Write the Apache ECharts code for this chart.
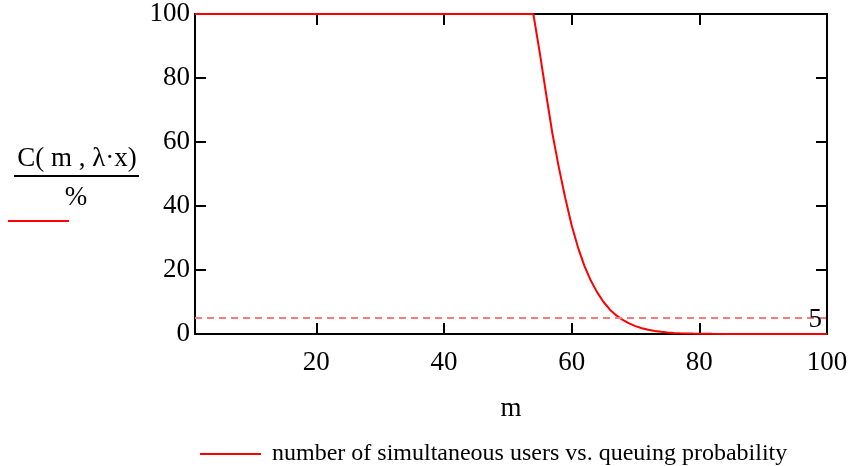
<!DOCTYPE html>
<html>
<head>
<meta charset="utf-8">
<script src="https://cdn.jsdelivr.net/npm/echarts@6/dist/echarts.min.js"></script>
<style>
html,body{margin:0;padding:0;background:#fff;}
#chart{width:856px;height:466px;}
</style>
</head>
<body>
<div id="chart"></div>
<script>
// Number of servers m
var mValues = [1, 54, 55, 56, 57, 58, 59, 60, 61, 62, 63, 64, 65, 66, 67, 68, 69, 70, 71, 72, 73, 74, 75, 76, 77, 78, 79, 80, 82, 85, 90, 100];
// Queuing probability C(m, λ·x) in %
var cValues = [100, 100, 88, 75, 62.5, 52, 42.5, 34, 27, 21.3, 16.7, 13, 10, 7.6, 5.8, 4.4, 3.3, 2.45, 1.8, 1.3, 0.95, 0.68, 0.48, 0.34, 0.24, 0.17, 0.12, 0.08, 0.04, 0.01, 0, 0];
var thresholdValue = 5;
var xTickValues = [20, 40, 60, 80];
var xLabelValues = [20, 40, 60, 80, 100];
var seriesName = 'number of simultaneous users vs. queuing probability';

var FONT = 'Liberation Serif';
var chart = echarts.init(document.getElementById('chart'));

var points = mValues.map(function (m, i) { return [m, cValues[i]]; });

function xAxisCfg(pos, showLabels) {
  return {
    type: 'value', position: pos, min: 1, max: 100,
    axisLine: { show: true, onZero: false, lineStyle: { color: '#000', width: 2 } },
    axisTick: { show: true, inside: true, length: 11, customValues: xTickValues, lineStyle: { color: '#000', width: 2 } },
    axisLabel: showLabels ? { show: true, customValues: xLabelValues, margin: 15, color: '#000', fontFamily: FONT, fontSize: 27 } : { show: false },
    splitLine: { show: false },
    name: showLabels ? 'm' : '',
    nameLocation: 'middle', nameGap: 61,
    nameTextStyle: { color: '#000', fontFamily: FONT, fontSize: 27 }
  };
}
function yAxisCfg(pos, showLabels) {
  return {
    type: 'value', position: pos, min: 0, max: 100, interval: 20,
    axisLine: { show: true, onZero: false, lineStyle: { color: '#000', width: 2 } },
    axisTick: { show: true, inside: true, length: 11, lineStyle: { color: '#000', width: 2 } },
    axisLabel: showLabels ? { show: true, margin: 5, color: '#000', fontFamily: FONT, fontSize: 27 } : { show: false },
    splitLine: { show: false }
  };
}

chart.setOption({
  animation: false,
  backgroundColor: '#fff',
  grid: { left: 195, right: 29, top: 14, bottom: 132, containLabel: false },
  xAxis: [xAxisCfg('bottom', true), xAxisCfg('top', false)],
  yAxis: [yAxisCfg('left', true), yAxisCfg('right', false)],
  legend: {
    data: [{ name: seriesName, icon: 'rect' }],
    left: 200, top: 442, padding: 0,
    itemWidth: 61, itemHeight: 2,
    itemStyle: { color: '#ff0000' },
    textStyle: { color: '#000', fontFamily: FONT, fontSize: 24, padding: [0, 0, 0, 6] },
    selectedMode: false
  },
  graphic: [
    { type: 'text', style: { text: 'C( m , λ·x)', x: 77, y: 159, align: 'center', verticalAlign: 'middle', fill: '#000', font: '27px "Liberation Serif"' } },
    { type: 'line', shape: { x1: 14, y1: 176, x2: 139, y2: 176 }, style: { stroke: '#000', lineWidth: 2 } },
    { type: 'text', style: { text: '%', x: 76, y: 198, align: 'center', verticalAlign: 'middle', fill: '#000', font: '27px "Liberation Serif"' } },
    { type: 'line', shape: { x1: 8, y1: 221, x2: 69, y2: 221 }, style: { stroke: '#ff0000', lineWidth: 2 } }
  ],
  series: [{
    name: seriesName,
    type: 'line',
    xAxisIndex: 0, yAxisIndex: 0,
    data: points,
    showSymbol: false,
    symbol: 'none',
    lineStyle: { color: '#ff0000', width: 2 },
    itemStyle: { color: '#ff0000' },
    markLine: {
      silent: true,
      symbol: 'none',
      lineStyle: { color: '#f47c7c', type: [7, 5], width: 2 },
      label: { show: true, formatter: String(thresholdValue), position: 'insideEndTop', distance: [5, -15], color: '#000', fontFamily: FONT, fontSize: 27 },
      data: [{ yAxis: thresholdValue }]
    }
  }]
});
</script>
</body>
</html>
